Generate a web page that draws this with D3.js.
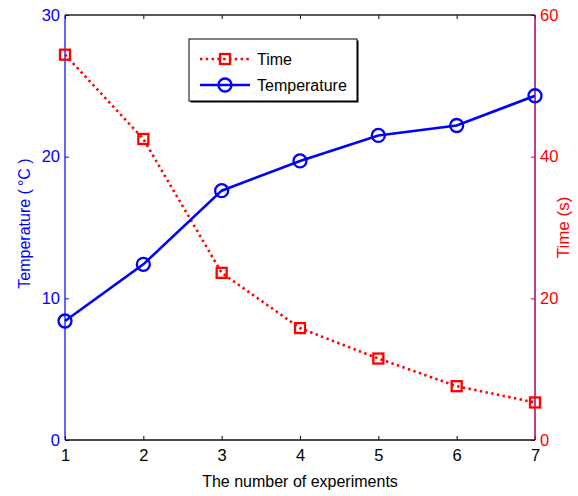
<!DOCTYPE html>
<html>
<head>
<meta charset="utf-8">
<script src="https://cdn.jsdelivr.net/npm/d3@7"></script>
<style>
  body { margin: 0; background: #fff; }
  text { font-family: "Liberation Sans", Arial, sans-serif; }
</style>
</head>
<body>
<div id="container"></div>
<script>
  var experiments = [1, 2, 3, 4, 5, 6, 7]
  var temperature = [8.4, 12.4, 17.6, 19.7, 21.5, 22.2, 24.3]
  var time = [54.4, 42.5, 23.6, 15.8, 11.5, 7.6, 5.3]
  var tempTicks = [0, 10, 20, 30]
  var timeTicks = [0, 20, 40, 60]

  var WIDTH = 578
  var HEIGHT = 496
  // plot box edges (window.top is reserved, so use other names)
  var pLeft = 65, pRight = 535, pTop = 15, pBottom = 440

  var svg = d3.select('div#container').append('svg')
    .attr('width', WIDTH)
    .attr('height', HEIGHT)

  var x = d3.scaleLinear().domain([1, 7]).range([pLeft, pRight])
  var yT = d3.scaleLinear().domain([0, 30]).range([pBottom, pTop])
  var yS = d3.scaleLinear().domain([0, 60]).range([pBottom, pTop])

  function styleAxis(g, color, size) {
    g.select('.domain').remove()
    g.selectAll('line').attr('stroke', color)
    g.selectAll('text')
      .attr('fill', color)
      .style('font-size', (size || 16) + 'px')
  }

  // left axis (blue)
  var gl = svg.append('g')
    .attr('transform', 'translate(' + pLeft + ',0)')
    .call(d3.axisLeft(yT).tickValues(tempTicks).tickSizeInner(-4).tickSizeOuter(0).tickPadding(5))
  styleAxis(gl, '#0000ff', 16.5)

  // right axis (red)
  var gr = svg.append('g')
    .attr('transform', 'translate(' + pRight + ',0)')
    .call(d3.axisRight(yS).tickValues(timeTicks).tickSizeInner(-4).tickSizeOuter(0).tickPadding(5))
  styleAxis(gr, '#ff0000', 16.5)

  // bottom axis
  var gb = svg.append('g')
    .attr('transform', 'translate(0,' + pBottom + ')')
    .call(d3.axisBottom(x).tickValues(experiments).tickFormat(d3.format('d')).tickSizeInner(-4).tickSizeOuter(0).tickPadding(9))
  styleAxis(gb, '#000', 16.5)

  // top ticks
  var gt = svg.append('g')
    .attr('transform', 'translate(0,' + pTop + ')')
    .call(d3.axisTop(x).tickValues(experiments).tickFormat('').tickSizeInner(-4).tickSizeOuter(0))
  styleAxis(gt, '#000')

  // frame
  svg.append('line').attr('x1', pLeft).attr('x2', pLeft).attr('y1', pTop).attr('y2', pBottom)
    .attr('stroke', '#0000ff').attr('stroke-width', 1.2)
  svg.append('line').attr('x1', pRight).attr('x2', pRight).attr('y1', pTop).attr('y2', pBottom)
    .attr('stroke', '#a8127a').attr('stroke-width', 1.6)
  svg.append('line').attr('x1', pLeft).attr('x2', pRight).attr('y1', pTop).attr('y2', pTop)
    .attr('stroke', '#222').attr('stroke-width', 1.4)
  svg.append('line').attr('x1', pLeft).attr('x2', pRight).attr('y1', pBottom).attr('y2', pBottom)
    .attr('stroke', '#111').attr('stroke-width', 1.6)

  // time series (red dotted, squares)
  var lineS = d3.line().x(function (d, i) { return x(experiments[i]) }).y(function (d) { return yS(d) })
  svg.append('path')
    .attr('d', lineS(time))
    .attr('fill', 'none')
    .attr('stroke', '#ff0000')
    .attr('stroke-width', 2.6)
    .attr('stroke-dasharray', '2.4,3.4')

  svg.selectAll('rect.sq').data(time).enter().append('rect')
    .attr('class', 'sq')
    .attr('x', function (d, i) { return x(experiments[i]) - 5 })
    .attr('y', function (d) { return yS(d) - 5 })
    .attr('width', 10)
    .attr('height', 10)
    .attr('fill', 'none')
    .attr('stroke', '#ff0000')
    .attr('stroke-width', 2.3)

  // temperature series (blue solid, circles)
  var lineT = d3.line().x(function (d, i) { return x(experiments[i]) }).y(function (d) { return yT(d) })
  svg.append('path')
    .attr('d', lineT(temperature))
    .attr('fill', 'none')
    .attr('stroke', '#0000ff')
    .attr('stroke-width', 2.6)

  svg.selectAll('circle.pt').data(temperature).enter().append('circle')
    .attr('class', 'pt')
    .attr('cx', function (d, i) { return x(experiments[i]) })
    .attr('cy', function (d) { return yT(d) })
    .attr('r', 6.5)
    .attr('fill', 'none')
    .attr('stroke', '#0000ff')
    .attr('stroke-width', 2.3)

  // axis labels
  svg.append('text')
    .attr('x', (pLeft + pRight) / 2)
    .attr('y', 487)
    .attr('text-anchor', 'middle')
    .style('font-size', '16px')
    .attr('fill', '#000')
    .text('The number of experiments')

  var yl = svg.append('text')
    .attr('transform', 'translate(30,' + ((pTop + pBottom) / 2 - 4) + ') rotate(-90)')
    .attr('text-anchor', 'middle')
    .style('font-size', '16px')
    .attr('fill', '#0000ff')
  yl.append('tspan').text('Temperature (')
  yl.append('tspan').attr('dx', 3).text('°C')
  yl.append('tspan').text(' )')

  svg.append('text')
    .attr('transform', 'translate(569,' + ((pTop + pBottom) / 2) + ') rotate(-90)')
    .attr('text-anchor', 'middle')
    .style('font-size', '17px')
    .attr('fill', '#ff0000')
    .text('Time (s)')

  // legend
  var lg = svg.append('g')
  lg.append('rect')
    .attr('x', 190.5).attr('y', 40.5).attr('width', 168).attr('height', 62)
    .attr('fill', '#000')
  lg.append('rect')
    .attr('x', 189).attr('y', 39).attr('width', 168).attr('height', 62)
    .attr('fill', '#fff').attr('stroke', '#000').attr('stroke-width', 1)

  var entries = [
    { name: 'Time', color: '#ff0000', dash: '2.4,3.4', marker: 'square' },
    { name: 'Temperature', color: '#0000ff', dash: null, marker: 'circle' }
  ]
  entries.forEach(function (e, i) {
    var cy = 59 + i * 26
    lg.append('line')
      .attr('x1', 200).attr('x2', 250).attr('y1', cy).attr('y2', cy)
      .attr('stroke', e.color)
      .attr('stroke-width', 2.6)
      .attr('stroke-dasharray', e.dash)
    if (e.marker === 'square') {
      lg.append('rect').attr('x', 220).attr('y', cy - 5).attr('width', 10).attr('height', 10)
        .attr('fill', 'none').attr('stroke', e.color).attr('stroke-width', 2.3)
    } else {
      lg.append('circle').attr('cx', 225).attr('cy', cy).attr('r', 6.5)
        .attr('fill', 'none').attr('stroke', e.color).attr('stroke-width', 2.3)
    }
    lg.append('text')
      .attr('x', 257).attr('y', cy + 6)
      .style('font-size', '16px')
      .attr('fill', '#000')
      .text(e.name)
  })
</script>
</body>
</html>
